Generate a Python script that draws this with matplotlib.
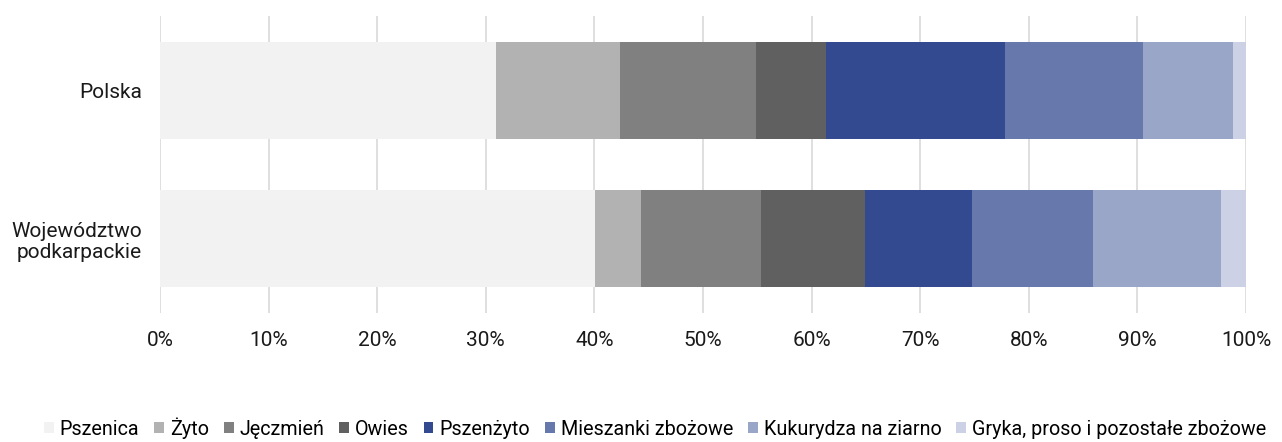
import matplotlib.pyplot as plt
import numpy as np

plt.rcParams['font.family'] = ['Roboto', 'DejaVu Sans']

# Dane: udział powierzchni zasiewów zbóż (%)
regions = ["Polska", "Województwo\npodkarpackie"]
crops = ["Pszenica", "Żyto", "Jęczmień", "Owies", "Pszenżyto",
         "Mieszanki zbożowe", "Kukurydza na ziarno", "Gryka, proso i pozostałe zbożowe"]
polska = [30.9, 11.5, 12.5, 6.45, 16.45, 12.7, 8.3, 1.2]
podkarpackie = [40.1, 4.2, 11.0, 9.6, 9.9, 11.1, 11.8, 2.3]
colors = ["#F2F2F2", "#B2B2B2", "#808080", "#606060", "#334A91",
          "#6778AC", "#99A6C8", "#CCD1E5"]

values = np.array([polska, podkarpackie])

fig = plt.figure(figsize=(12.82, 4.42), dpi=100)
ax = fig.add_axes([160 / 1282, 1 - 313 / 442, 1086 / 1282, 297 / 442])

left = np.zeros(len(regions))
for i, name in enumerate(crops):
    ax.barh(regions, values[:, i], left=left, height=0.655,
            color=colors[i], label=name, zorder=2)
    left += values[:, i]

ax.set_xlim(0, 100)
ax.set_ylim(1.5, -0.5)
ax.set_xticks(np.arange(0, 101, 10))
ax.set_xticklabels([f"{t}%" for t in range(0, 101, 10)])
ax.grid(axis="x", color="#D9D9D9", linewidth=1.2, zorder=0)
for s in ax.spines.values():
    s.set_visible(False)
ax.tick_params(length=0, labelsize=15, colors="#1a1a1a")
ax.tick_params(axis="x", pad=13)
ax.tick_params(axis="y", pad=13)
for lbl in ax.get_yticklabels():
    lbl.set_linespacing(1.15)

ax.legend(loc="center", bbox_to_anchor=(655 / 1282, 14 / 442),
          bbox_transform=fig.transFigure, ncol=8, frameon=False,
          fontsize=14.2, handlelength=0.5, handleheight=0.5,
          handletextpad=0.3, columnspacing=0.75)

fig.savefig("out.png", dpi=100)
